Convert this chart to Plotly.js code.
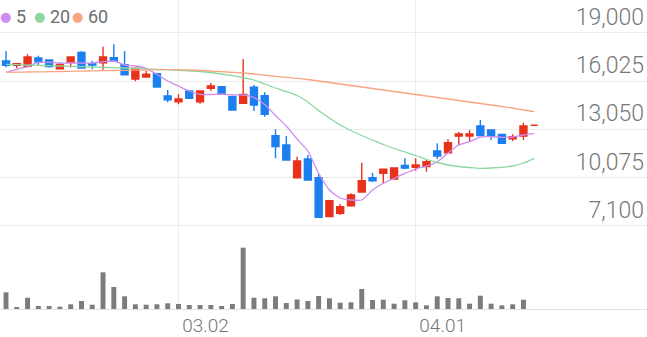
<!DOCTYPE html>
<html><head><meta charset="utf-8">
<script src="https://cdn.plot.ly/plotly-3.0.1.min.js"></script>
<style>html,body{margin:0;padding:0;background:#fff}#chart{width:647px;height:337px}</style>
</head><body><div id="chart"></div>
<script>
const dates = ['2026-02-03','2026-02-04','2026-02-05','2026-02-06','2026-02-09','2026-02-10','2026-02-11','2026-02-12','2026-02-13','2026-02-19','2026-02-20','2026-02-23','2026-02-24','2026-02-25','2026-02-26','2026-02-27',
'2026-03-02','2026-03-03','2026-03-04','2026-03-05','2026-03-06','2026-03-09','2026-03-10','2026-03-11','2026-03-12','2026-03-13','2026-03-16','2026-03-17','2026-03-18','2026-03-19','2026-03-20','2026-03-23','2026-03-24','2026-03-25','2026-03-26','2026-03-27','2026-03-30','2026-03-31',
'2026-04-01','2026-04-02','2026-04-03','2026-04-06','2026-04-07','2026-04-08','2026-04-09','2026-04-10','2026-04-13','2026-04-14','2026-04-15','2026-04-16'];
const openP  = [17260,16990,16930,17440,17320,16780,17180,17790,17090,17150,17460,17030,16150,16270,16480,15100,14750,15410,14750,15580,15670,15060,14650,15640,15120,12660,12080,10070,11220,10070,7670,7880,8340,9190,10070,10340,9990,10830,10710,10750,11710,11610,12640,12640,13250,13010,12740,12470,12640,13300];
const highP  = [17870,17090,17670,17580,17360,17130,17500,17870,17280,18140,18290,17870,16810,16640,16540,15470,15210,15430,15450,15900,15700,15080,17380,15780,15330,13050,12640,11360,11470,10280,8650,8450,9110,10990,10380,10590,10710,11260,11260,11160,12190,12430,12880,13010,13620,13010,12740,12740,13460,13300];
const lowP   = [16870,16810,16850,17010,16850,16780,16850,16810,16750,16720,17260,16380,16010,16270,15640,14710,14590,14940,14630,15410,15200,14220,14650,14180,13830,11260,11160,10070,9930,7630,7670,7770,8280,9190,9820,9720,9990,10590,10500,10440,11220,11610,12080,12290,12660,12390,12190,12330,12390,13300];
const closeP = [16990,17090,17500,17210,16910,17050,17500,16830,17010,17500,17260,16400,16810,16440,15660,14870,14920,14960,15410,15720,15220,14240,15200,14550,13970,11980,11160,11100,9930,7630,8650,8280,9000,9880,9880,10590,10670,10670,10850,11050,11410,12220,12760,12760,12660,12640,12190,12590,13250,13300];
const volume = [167,20,113,30,30,23,47,80,43,367,220,127,47,43,47,57,50,40,40,40,30,50,613,113,107,127,60,95,80,130,107,63,67,200,90,93,53,87,67,37,127,110,107,53,133,53,37,47,93,0];
const ma5  = [16561,16746,16906,17177,17177,17134,17134,17134,17134,17214,17257,17011,16949,16808,16438,16025,15717,15409,15206,15194,15224,15163,15163,15009,14578,13900,13253,12452,11713,10340,9311,8818,8695,8695,9311,9724,10032,10340,10604,10789,11036,11590,12083,12286,12576,12594,12557,12576,12699,12804];
const ma20 = [17054,17029,17011,16992,16968,16949,16931,16906,16888,16869,16845,16826,16808,16777,16746,16721,16684,16641,16610,16549,16456,16352,16229,16087,15840,15594,15366,15132,14732,14208,13746,13315,12976,12668,12391,12114,11867,11652,11436,11190,11005,10851,10758,10697,10648,10666,10709,10789,10974,11264];
const ma60 = [16561,16567,16580,16586,16598,16610,16623,16635,16647,16660,16672,16684,16697,16703,16715,16728,16728,16703,16672,16641,16598,16561,16518,16456,16383,16315,16253,16192,16118,16025,15933,15840,15748,15656,15563,15471,15378,15286,15194,15101,15009,14916,14824,14732,14639,14547,14454,14362,14239,14134];
const priceTicks = [7100,10075,13050,16025,19000];
const priceTickText = ['7,100','10,075','13,050','16,025','19,000'];
const dateTicks = ['2026-03-02','2026-04-01'];
const dateTickText = ['03.02','04.01'];
const maNames = ['5','20','60'];

const RED = '#e8321c', BLUE = '#1b7ff0', GREY = '#7c7c7c';
const MA_COL = ['#cd8cef','#8dd6a0','#f7a583'];

// split candles into red (up) / blue (down); ties follow previous close
const isUp = closeP.map((c,i)=> c>openP[i] ? true : c<openP[i] ? false : (i>0 ? c>=closeP[i-1] : true));
function pick(arr, up){ return arr.filter((_,i)=>isUp[i]===up); }
function candle(up){
  const col = up?RED:BLUE;
  return {type:'candlestick', x:pick(dates,up), open:pick(openP,up), high:pick(highP,up), low:pick(lowP,up), close:pick(closeP,up),
    xaxis:'x', yaxis:'y', whiskerwidth:0,
    increasing:{line:{color:col,width:1.4},fillcolor:col},
    decreasing:{line:{color:col,width:1.4},fillcolor:col}, hoverinfo:'skip'};
}
const maTraces = [ma5,ma20,ma60].map((m,k)=>({type:'scatter',mode:'lines',x:dates,y:m,xaxis:'x',yaxis:'y',
  line:{color:MA_COL[k],width:1.3,shape:'spline',smoothing:0.6},hoverinfo:'skip',name:maNames[k]}));

const volTrace = {type:'bar',x:dates,y:volume,xaxis:'x',yaxis:'y2',marker:{color:GREY},width:0.46,hoverinfo:'skip'};

const W=647, PH=309;
const annotations = [];
const dotX=[5.5,39,77.5], txtX=[14,48,86];
maNames.forEach((n,k)=>{
  annotations.push({xref:'paper',yref:'paper',x:dotX[k]/W,y:1-16/PH,xanchor:'center',yanchor:'middle',showarrow:false,
    text:'●',font:{family:'DejaVu Sans',size:13,color:MA_COL[k]}});
  annotations.push({xref:'paper',yref:'paper',x:txtX[k]/W,y:1-16.5/PH,xanchor:'left',yanchor:'middle',showarrow:false,
    text:n,font:{family:'Roboto',size:18,color:'#6e6e6e'}});
});

const layout = {
  width:W, height:337, margin:{l:0,r:0,t:0,b:28,pad:0},
  paper_bgcolor:'#fff', plot_bgcolor:'#fff', showlegend:false,
  boxgap:0.2, boxgroupgap:0.19, boxmode:'overlay',
  xaxis:{type:'category', range:[-0.557,59.46], anchor:'y2', tickmode:'array', tickvals:dateTicks, ticktext:dateTickText,
    showgrid:true, gridcolor:'#ececec', gridwidth:1, showline:true, linecolor:'#e2e2e2', linewidth:1, ticks:'',
    tickfont:{family:'Roboto',size:19,color:'#777',weight:300}, ticklabelshift:27, ticklabelstandoff:-1,
    rangeslider:{visible:false}, zeroline:false, fixedrange:true},
  yaxis:{domain:[0.2233,1], range:[6231,21015], side:'right', tickmode:'array', tickvals:priceTicks, ticktext:priceTickText,
    ticklabelposition:'inside top', tickfont:{family:'Roboto',size:23,color:'#777',weight:300},
    showgrid:true, gridcolor:'#ececec', gridwidth:1, showline:false, zeroline:false, ticks:'', fixedrange:true},
  yaxis2:{domain:[0,0.2233], range:[0,690], showgrid:false, showticklabels:false, zeroline:false, showline:false, fixedrange:true},
  annotations:annotations
};

Plotly.newPlot('chart',[volTrace,...maTraces,candle(true),candle(false)],layout,{staticPlot:true,displayModeBar:false});
</script></body></html>
